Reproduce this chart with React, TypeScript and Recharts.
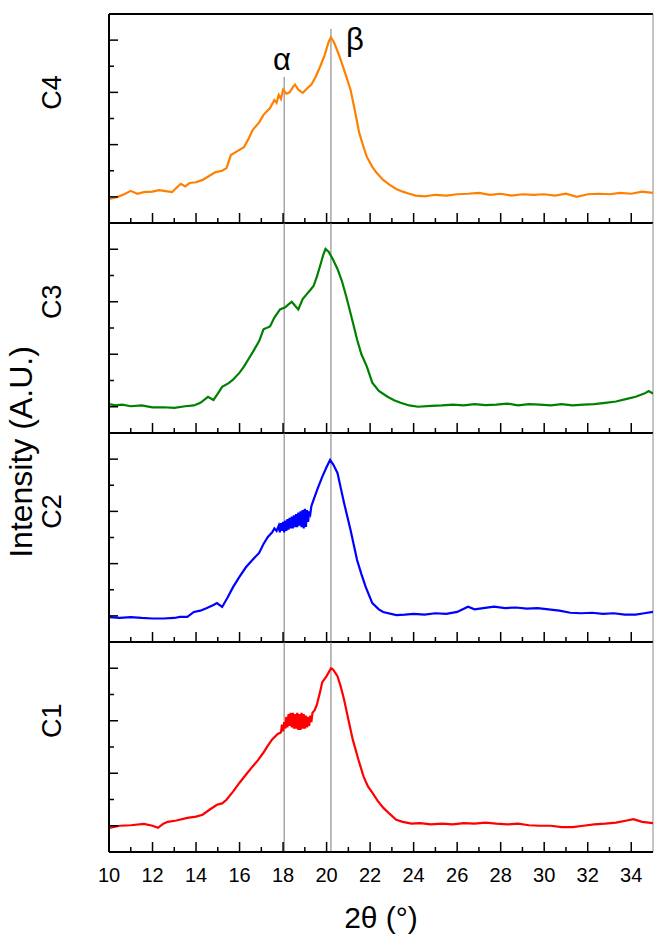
import React from 'react';
import { LineChart, Line, XAxis, YAxis, ReferenceLine, ReferenceDot } from 'recharts';

const FONT = '"Liberation Sans", Arial, Helvetica, sans-serif';

// x ticks (2θ, degrees) – every integer gets a tick, even ones are labelled
const xTickValues = [10, 11, 12, 13, 14, 15, 16, 17, 18, 19, 20, 21, 22, 23, 24, 25, 26, 27, 28, 29, 30, 31, 32, 33, 34];
const yTickValues = [1, 2, 3, 4, 5, 6, 7, 8];
const xDomain: [number, number] = [10, 35];
const yDomain: [number, number] = [0, 8];

// reference positions (α, β peaks)
const alphaX = 18.05;
const betaX = 20.2;
const alphaLineTop = 5.59;
const betaLineTop = 7.43;
const alphaLabel = { x: 17.95, y: 6.28, text: 'α' };
const betaLabel = { x: 21.3, y: 7.05, text: 'β' };

// series: [2θ, intensity (a.u.)]
const c4: [number, number][] = [
  [10.0, 0.92], [10.4, 1.0], [10.7, 1.1], [11.0, 1.23], [11.3, 1.12], [11.6, 1.18], [12.0, 1.2], [12.3, 1.26],
  [12.6, 1.22], [12.9, 1.18], [13.1, 1.35], [13.3, 1.5], [13.5, 1.4], [13.7, 1.53], [14.0, 1.56], [14.3, 1.65],
  [14.6, 1.8], [14.9, 1.95], [15.2, 2.0], [15.4, 2.1], [15.6, 2.6], [15.9, 2.75], [16.2, 2.9], [16.4, 3.2],
  [16.6, 3.56], [16.9, 3.85], [17.1, 4.14], [17.4, 4.4], [17.6, 4.71], [17.7, 4.6], [17.8, 4.9], [17.9, 4.75],
  [18.0, 5.1], [18.15, 4.95], [18.3, 5.0], [18.45, 5.2], [18.55, 5.3], [18.7, 5.1], [18.9, 4.98], [19.1, 5.15],
  [19.3, 5.3], [19.5, 5.6], [19.7, 5.98], [19.9, 6.4], [20.1, 6.95], [20.2, 7.1], [20.35, 6.9], [20.6, 6.36],
  [20.85, 5.75], [21.1, 5.1], [21.3, 4.3], [21.5, 3.45], [21.7, 2.9], [21.85, 2.53], [22.1, 2.15], [22.3, 1.92],
  [22.6, 1.65], [22.9, 1.46], [23.2, 1.3], [23.5, 1.2], [23.8, 1.12], [24.1, 1.05], [24.5, 1.02], [25.0, 1.08],
  [25.5, 1.05], [26.0, 1.1], [26.5, 1.12], [27.0, 1.15], [27.5, 1.08], [28.0, 1.12], [28.5, 1.05], [29.0, 1.1],
  [29.5, 1.08], [30.0, 1.1], [30.5, 1.05], [31.0, 1.12], [31.5, 1.0], [32.0, 1.1], [32.5, 1.12], [33.0, 1.1],
  [33.5, 1.15], [34.0, 1.12], [34.5, 1.2], [35.0, 1.15],
];

const c3: [number, number][] = [
  [10.0, 1.1], [10.3, 1.05], [10.6, 1.08], [11.0, 1.02], [11.5, 1.05], [12.0, 0.98], [12.5, 0.98], [13.0, 0.96],
  [13.5, 1.02], [13.9, 1.05], [14.2, 1.15], [14.55, 1.38], [14.8, 1.26], [15.0, 1.5], [15.2, 1.76], [15.5, 1.9],
  [15.7, 2.03], [16.0, 2.3], [16.2, 2.53], [16.4, 2.8], [16.6, 3.07], [16.9, 3.5], [17.1, 3.95], [17.4, 4.06],
  [17.6, 4.4], [17.86, 4.71], [18.1, 4.79], [18.25, 4.9], [18.4, 5.0], [18.55, 4.85], [18.7, 4.71], [18.9, 5.1],
  [19.1, 5.3], [19.25, 5.45], [19.4, 5.6], [19.55, 5.95], [19.7, 6.36], [19.85, 6.8], [19.95, 7.01], [20.1, 6.9],
  [20.3, 6.6], [20.5, 6.25], [20.7, 5.8], [20.9, 5.21], [21.15, 4.4], [21.4, 3.56], [21.6, 3.0], [21.85, 2.53],
  [22.1, 1.92], [22.4, 1.6], [22.8, 1.38], [23.1, 1.25], [23.4, 1.15], [23.8, 1.05], [24.2, 1.0], [24.8, 1.03],
  [25.3, 1.05], [25.8, 1.08], [26.3, 1.05], [26.8, 1.1], [27.3, 1.06], [27.8, 1.08], [28.3, 1.12], [28.8, 1.05],
  [29.3, 1.1], [29.8, 1.08], [30.3, 1.05], [30.8, 1.1], [31.3, 1.05], [31.8, 1.08], [32.3, 1.1], [32.8, 1.15],
  [33.3, 1.2], [33.8, 1.3], [34.2, 1.38], [34.6, 1.5], [34.8, 1.6], [35.0, 1.5],
];

const c2: [number, number][] = [
  [10.0, 0.95], [10.5, 0.92], [11.0, 0.95], [11.5, 0.92], [12.0, 0.9], [12.5, 0.9], [13.0, 0.92], [13.26, 0.96],
  [13.6, 0.96], [13.9, 1.15], [14.2, 1.2], [14.5, 1.3], [14.8, 1.42], [14.96, 1.49], [15.2, 1.34], [15.45, 1.7],
  [15.7, 2.1], [16.0, 2.5], [16.3, 2.87], [16.6, 3.15], [16.9, 3.41], [17.1, 3.75], [17.3, 4.02], [17.5, 4.2],
  [17.6, 4.35], [17.7, 4.25], [17.8, 4.45], [17.85, 4.2], [17.9, 4.55], [17.95, 4.25], [18.0, 4.6], [18.05, 4.2],
  [18.1, 4.65], [18.15, 4.25], [18.2, 4.7], [18.25, 4.3], [18.3, 4.75], [18.35, 4.35], [18.4, 4.8], [18.45, 4.35],
  [18.5, 4.85], [18.55, 4.4], [18.6, 4.9], [18.65, 4.4], [18.7, 4.95], [18.75, 4.45], [18.8, 5.0], [18.85, 4.4],
  [18.9, 5.05], [18.95, 4.35], [19.0, 5.1], [19.05, 4.4], [19.1, 5.05], [19.15, 4.6], [19.2, 5.0], [19.25, 4.9],
  [19.3, 5.2], [19.4, 5.44], [19.6, 5.9], [19.8, 6.32], [20.0, 6.7], [20.16, 6.97], [20.3, 6.8], [20.5, 6.47],
  [20.65, 5.9], [20.8, 5.33], [21.1, 4.29], [21.4, 3.14], [21.6, 2.6], [21.8, 2.1], [22.1, 1.49], [22.4, 1.25],
  [22.6, 1.15], [23.2, 1.03], [23.6, 1.05], [24.0, 1.08], [24.5, 1.05], [25.0, 1.1], [25.5, 1.08], [26.0, 1.15],
  [26.5, 1.35], [26.8, 1.25], [27.2, 1.3], [27.7, 1.35], [28.2, 1.3], [28.7, 1.32], [29.2, 1.28], [29.7, 1.3],
  [30.2, 1.25], [30.7, 1.2], [31.2, 1.12], [31.7, 1.1], [32.2, 1.12], [32.7, 1.08], [33.2, 1.1], [33.7, 1.05],
  [34.2, 1.05], [34.6, 1.1], [35.0, 1.15],
];

const c1: [number, number][] = [
  [10.0, 0.92], [10.5, 1.0], [11.0, 1.02], [11.6, 1.07], [12.0, 1.0], [12.25, 0.92], [12.5, 1.08], [12.7, 1.15],
  [13.1, 1.2], [13.6, 1.3], [14.0, 1.35], [14.3, 1.42], [14.6, 1.6], [14.96, 1.8], [15.2, 1.85], [15.4, 1.99],
  [15.7, 2.3], [16.0, 2.64], [16.3, 2.95], [16.6, 3.26], [16.85, 3.5], [17.1, 3.79], [17.3, 4.05], [17.5, 4.29],
  [17.75, 4.5], [17.9, 4.55], [17.95, 4.85], [18.0, 4.6], [18.05, 4.95], [18.1, 4.7], [18.15, 5.15], [18.2, 4.75],
  [18.25, 5.25], [18.3, 4.8], [18.35, 5.3], [18.4, 4.75], [18.45, 5.3], [18.5, 4.7], [18.55, 5.25], [18.6, 4.7],
  [18.65, 5.3], [18.7, 4.65], [18.75, 5.25], [18.8, 4.65], [18.85, 5.3], [18.9, 4.7], [18.95, 5.25], [19.0, 4.7],
  [19.05, 5.2], [19.1, 4.75], [19.15, 5.15], [19.2, 4.8], [19.25, 5.2], [19.3, 4.95], [19.35, 5.3], [19.45, 5.4],
  [19.55, 5.6], [19.7, 6.1], [19.8, 6.47], [20.0, 6.7], [20.2, 7.0], [20.3, 6.95], [20.5, 6.7], [20.65, 6.3],
  [20.8, 5.82], [21.0, 5.05], [21.2, 4.29], [21.45, 3.55], [21.7, 2.87], [21.9, 2.5], [22.1, 2.26], [22.35, 1.95],
  [22.6, 1.69], [22.9, 1.45], [23.2, 1.23], [23.5, 1.15], [23.9, 1.08], [24.3, 1.1], [24.8, 1.05], [25.3, 1.08],
  [25.8, 1.05], [26.3, 1.1], [26.8, 1.08], [27.3, 1.12], [27.8, 1.08], [28.3, 1.05], [28.8, 1.08], [29.3, 1.02],
  [29.8, 1.0], [30.3, 1.0], [30.8, 0.95], [31.3, 0.95], [31.8, 1.0], [32.3, 1.05], [32.8, 1.08], [33.3, 1.12],
  [33.8, 1.2], [34.1, 1.25], [34.5, 1.15], [35.0, 1.1],
];

const panels = [
  { name: 'C4', color: '#FF8000', pts: c4, top: 14, height: 209 },
  { name: 'C3', color: '#008000', pts: c3, top: 223, height: 210 },
  { name: 'C2', color: '#0000FF', pts: c2, top: 433, height: 209 },
  { name: 'C1', color: '#FF0000', pts: c1, top: 642, height: 210 },
];

const PAD = 10;
const LEFT = 109;
const BOTTOM_AXIS_H = 84;

const makeXTick = (showLabel: boolean) => (props: any) => {
  const { x, y, payload } = props;
  const v = payload.value;
  const major = v % 2 === 0;
  return (
    <g>
      <line x1={x} x2={x} y1={y} y2={y - (major ? 10 : 5)} stroke="#000" strokeWidth={1.5} />
      {showLabel && major && (
        <text x={x} y={y + 30} textAnchor="middle" fontSize={20} fontFamily={FONT} fill="#000">
          {v}
        </text>
      )}
    </g>
  );
};

const makeYTick = (name: string) => (props: any) => {
  const { x, y, payload } = props;
  const v = payload.value;
  const len = v % 2 === 1 ? 9 : 5;
  const lx = x - 57;
  return (
    <g>
      <line x1={x} x2={x + len} y1={y} y2={y} stroke="#000" strokeWidth={1.5} />
      {v === 5 && (
        <text
          x={lx}
          y={y}
          transform={`rotate(-90 ${lx} ${y})`}
          textAnchor="middle"
          dominantBaseline="central"
          fontSize={27}
          fontFamily={FONT}
          fill="#000"
        >
          {name}
        </text>
      )}
    </g>
  );
};

function Panel({ p, index }: { p: (typeof panels)[number]; index: number }) {
  const isTop = index === 0;
  const isBottom = index === panels.length - 1;
  const data = p.pts.map(([x, y]) => ({ x, y }));
  const chartH = isBottom ? PAD + p.height + BOTTOM_AXIS_H : PAD + p.height + PAD;
  return (
    <div style={{ position: 'absolute', left: 0, top: p.top - PAD }}>
      <LineChart
        width={654}
        height={chartH}
        data={data}
        margin={{ top: PAD, right: 1, bottom: isBottom ? 0 : PAD, left: 0 }}
      >
        <XAxis
          dataKey="x"
          type="number"
          domain={xDomain}
          allowDataOverflow
          ticks={xTickValues}
          interval={0}
          tickSize={0}
          tickMargin={0}
          tickLine={false}
          tick={makeXTick(isBottom)}
          axisLine={{ stroke: '#000', strokeWidth: 2 }}
          mirror={!isBottom}
          height={isBottom ? BOTTOM_AXIS_H : 30}
          label={
            isBottom
              ? { value: '2θ (°)', position: 'insideBottom', offset: 8, fontSize: 30, fill: '#000', fontFamily: FONT }
              : undefined
          }
        />
        <YAxis
          type="number"
          domain={yDomain}
          allowDataOverflow
          ticks={yTickValues}
          interval={0}
          width={LEFT}
          tickSize={0}
          tickMargin={0}
          tickLine={false}
          tick={makeYTick(p.name)}
          axisLine={{ stroke: '#000', strokeWidth: 2 }}
        />
        {isTop ? (
          <>
            <ReferenceLine
              segment={[{ x: alphaX, y: alphaLineTop }, { x: alphaX, y: 0 }]}
              stroke="#7a7a7a"
              strokeWidth={1}
            />
            <ReferenceLine
              segment={[{ x: betaX, y: betaLineTop }, { x: betaX, y: 0 }]}
              stroke="#7a7a7a"
              strokeWidth={1}
            />
            <ReferenceLine y={yDomain[1]} stroke="#000" strokeWidth={2} />
            <ReferenceDot
              x={alphaLabel.x}
              y={alphaLabel.y}
              r={0}
              fill="none"
              stroke="none"
              label={{ value: alphaLabel.text, position: 'center', fontSize: 31, fill: '#000', fontFamily: FONT }}
            />
            <ReferenceDot
              x={betaLabel.x}
              y={betaLabel.y}
              r={0}
              fill="none"
              stroke="none"
              label={{ value: betaLabel.text, position: 'center', fontSize: 31, fill: '#000', fontFamily: FONT }}
            />
          </>
        ) : (
          <>
            <ReferenceLine x={alphaX} stroke="#7a7a7a" strokeWidth={1} />
            <ReferenceLine x={betaX} stroke="#7a7a7a" strokeWidth={1} />
          </>
        )}
        <ReferenceLine x={xDomain[1]} stroke="#8a8a8a" strokeWidth={1} />
        <Line
          type="linear"
          dataKey="y"
          stroke={p.color}
          strokeWidth={2.2}
          dot={false}
          isAnimationActive={false}
        />
      </LineChart>
    </div>
  );
}

export default function App() {
  return (
    <div
      style={{
        position: 'absolute',
        left: 0,
        top: 0,
        width: 654,
        height: 936,
        background: '#fff',
        overflow: 'hidden',
        fontFamily: FONT,
      }}
    >
      {panels.map((p, i) => (
        <Panel key={p.name} p={p} index={i} />
      ))}
      <div
        style={{
          position: 'absolute',
          left: 21,
          top: 452,
          transform: 'translate(-50%, -50%) rotate(-90deg)',
          fontSize: 32,
          whiteSpace: 'nowrap',
          color: '#000',
          lineHeight: 1,
        }}
      >
        Intensity (A.U.)
      </div>
    </div>
  );
}
